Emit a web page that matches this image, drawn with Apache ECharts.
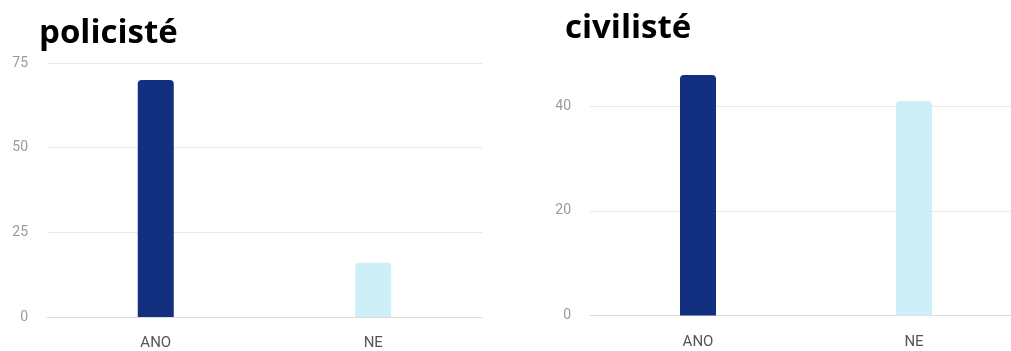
<!DOCTYPE html>
<html>
<head>
<meta charset="utf-8">
<script src="https://cdn.jsdelivr.net/npm/echarts@6/dist/echarts.min.js"></script>
<style>
  html, body { margin: 0; padding: 0; background: #ffffff; overflow: hidden; }
  /* the right plot area runs a little past the window edge */
  #chart { width: 1030px; height: 351px; }
</style>
</head>
<body>
<div id="chart"></div>
<script>
// Answers per group
const categories = ['ANO', 'NE'];
const policisteValues = [70, 16];
const civilisteValues = [46, 41];

// Left axis ticks: 0, 25, 50, 75; right axis ticks: 0, 20, 40
const policisteAxis = { min: 0, max: 75, interval: 25 };
const civilisteAxis = { min: 0, max: 50, interval: 20 };

const barColors = ['#12307f', '#cdeff8'];

const chart = echarts.init(document.getElementById('chart'), null, { renderer: 'canvas' });

const titleStyle = {
  fontFamily: '"Open Sans", Lato, sans-serif',
  fontWeight: 'bold',
  fontSize: 33,
  color: '#000000'
};

function yAxis(gridIndex, cfg) {
  return {
    type: 'value',
    gridIndex: gridIndex,
    min: cfg.min,
    max: cfg.max,
    interval: cfg.interval,
    axisLine: { show: false },
    axisTick: { show: false },
    axisLabel: {
      color: '#9a9a9a',
      fontFamily: 'Roboto, sans-serif',
      fontSize: 14,
      margin: 19,
      showMaxLabel: cfg.max % cfg.interval === 0
    },
    splitLine: {
      show: true,
      showMaxLine: cfg.max % cfg.interval === 0,
      lineStyle: { color: '#e9e9e9', width: 1 }
    }
  };
}

function xAxis(gridIndex) {
  return {
    type: 'category',
    gridIndex: gridIndex,
    data: categories,
    axisLine: { show: true, lineStyle: { color: '#dcdcdc', width: 1 } },
    axisTick: { show: false },
    axisLabel: {
      color: '#555555',
      fontFamily: 'Roboto, sans-serif',
      fontSize: 15,
      margin: 19
    }
  };
}

function barSeries(axisIndex, values) {
  return {
    type: 'bar',
    xAxisIndex: axisIndex,
    yAxisIndex: axisIndex,
    barWidth: 36,
    data: values.map((v, i) => ({
      value: v,
      itemStyle: { color: barColors[i], borderRadius: [4, 4, 0, 0] }
    }))
  };
}

chart.setOption({
  animation: false,
  backgroundColor: '#ffffff',
  title: [
    { text: 'policisté', left: 34, top: 12, textStyle: titleStyle },
    { text: 'civilisté', left: 560, top: 7, textStyle: titleStyle }
  ],
  grid: [
    { left: 47, top: 63, width: 435, height: 255 },
    { left: 590, top: 54, width: 432, height: 261.5 }
  ],
  xAxis: [xAxis(0), xAxis(1)],
  yAxis: [yAxis(0, policisteAxis), yAxis(1, civilisteAxis)],
  series: [
    barSeries(0, policisteValues),
    barSeries(1, civilisteValues)
  ]
});
</script>
</body>
</html>
